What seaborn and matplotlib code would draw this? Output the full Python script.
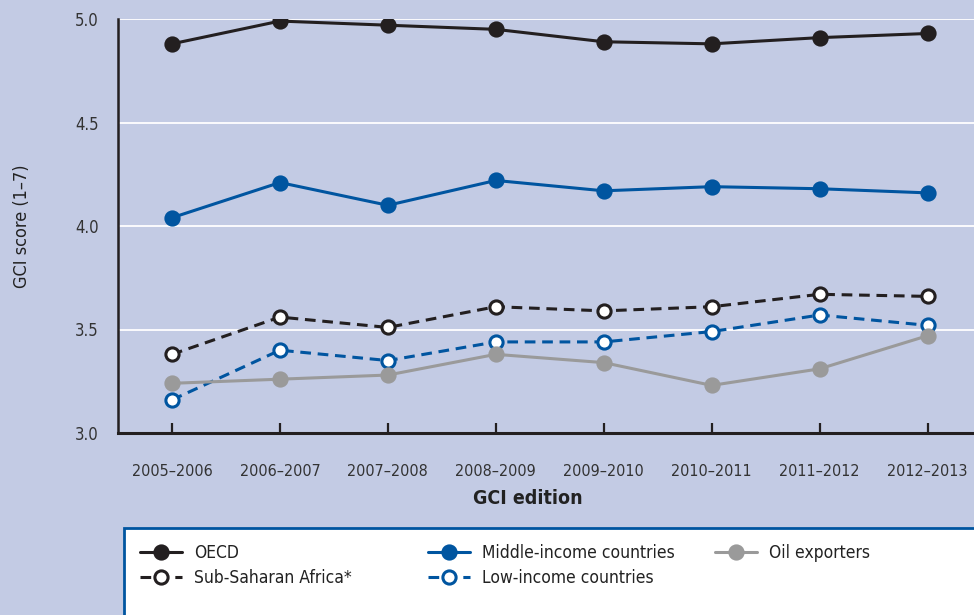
import numpy as np
import pandas as pd
import matplotlib
matplotlib.use("Agg")
import matplotlib.pyplot as plt
import seaborn as sns
from matplotlib.patches import Rectangle

# Data
editions = ["2005–2006", "2006–2007", "2007–2008", "2008–2009",
            "2009–2010", "2010–2011", "2011–2012", "2012–2013"]
oecd = [4.88, 4.99, 4.97, 4.95, 4.89, 4.88, 4.91, 4.93]
middle_income = [4.04, 4.21, 4.10, 4.22, 4.17, 4.19, 4.18, 4.16]
sub_saharan = [3.38, 3.56, 3.51, 3.61, 3.59, 3.61, 3.67, 3.66]
low_income = [3.16, 3.40, 3.35, 3.44, 3.44, 3.49, 3.57, 3.52]
oil_exporters = [3.24, 3.26, 3.28, 3.38, 3.34, 3.23, 3.31, 3.47]

bg = "#c3cbe4"
black = "#231f20"
blue = "#0055a0"
grey = "#9a9a9a"

sns.set_style("white")
plt.rcParams["font.family"] = ["DejaVu Sans"]
plt.rcParams["font.stretch"] = "condensed"

fig = plt.figure(figsize=(9.74, 6.15), dpi=100)
fig.patch.set_facecolor(bg)
ax = fig.add_axes([118 / 974, 1 - 433 / 615, 1 - 118 / 974, (433 - 19) / 615])
ax.set_facecolor(bg)

series = [
    ("OECD", oecd, black, "-", black),
    ("Sub-Saharan Africa*", sub_saharan, black, "--", "white"),
    ("Middle-income countries", middle_income, blue, "-", blue),
    ("Low-income countries", low_income, blue, "--", "white"),
    ("Oil exporters", oil_exporters, grey, "-", grey),
]

x = np.arange(len(editions))
draw_order = [4, 3, 1, 2, 0]
handles = {}
for i in draw_order:
    name, vals, col, ls, face = series[i]
    df = pd.DataFrame({"x": x, "y": vals})
    sns.lineplot(data=df, x="x", y="y", ax=ax, color=col, linestyle=ls,
                 linewidth=2.2, marker="o", markersize=9.5,
                 markerfacecolor=face, markeredgecolor=col,
                 markeredgewidth=2.2, label=name, legend=False, zorder=3 + i)
    line = ax.lines[-1]
    if ls == "--":
        line.set_dashes([3.5, 2.2])
    handles[name] = line

ax.set_xlim(-0.5, 7.43)
ax.set_ylim(3.0, 5.0)
ax.set_yticks([3.0, 3.5, 4.0, 4.5, 5.0])
ax.set_yticklabels(["3.0", "3.5", "4.0", "4.5", "5.0"])
ax.set_xticks(x)
ax.set_xticklabels(editions)
ax.grid(axis="y", color="white", linewidth=1.3)
ax.set_axisbelow(True)
for s in ["top", "right"]:
    ax.spines[s].set_visible(False)
ax.spines["left"].set_color(black)
ax.spines["bottom"].set_color(black)
ax.spines["left"].set_linewidth(1.8)
ax.spines["bottom"].set_linewidth(2.2)
ax.tick_params(axis="y", left=False, length=0, pad=14, labelsize=12,
               labelcolor="#333333")
ax.tick_params(axis="x", bottom=True, direction="in", length=7, width=1.6,
               color=black, pad=22, labelsize=11.5, labelcolor="#333333")
ax.set_xlabel("")
ax.set_ylabel("")

fig.text(22 / 974, 1 - 226 / 615, "GCI score (1–7)", rotation=90,
         ha="center", va="center", fontsize=13, color="#222222")
fig.text(528 / 974, 1 - 498 / 615, "GCI edition", ha="center", va="center",
         fontsize=14, fontweight="bold", color="#222222")

# legend box
box = Rectangle((124 / 974, -0.05), 1.0, (615 * 0.05 + 615 - 528) / 615,
                transform=fig.transFigure, facecolor="white",
                edgecolor=blue, linewidth=2.0, zorder=0)
fig.patches.append(box)

columns = [
    (["OECD", "Sub-Saharan Africa*"], 126),
    (["Middle-income countries", "Low-income countries"], 414),
    (["Oil exporters"], 701),
]
for names, left in columns:
    leg = fig.legend([handles[n] for n in names], names,
                     loc="upper left", bbox_to_anchor=(left / 974, 1 - 530 / 615),
                     frameon=False, fontsize=12.5, handlelength=2.4,
                     labelspacing=0.4, handletextpad=0.7,
                     labelcolor="#222222", borderpad=0.3)

fig.savefig("out.png", dpi=100, facecolor=bg)
